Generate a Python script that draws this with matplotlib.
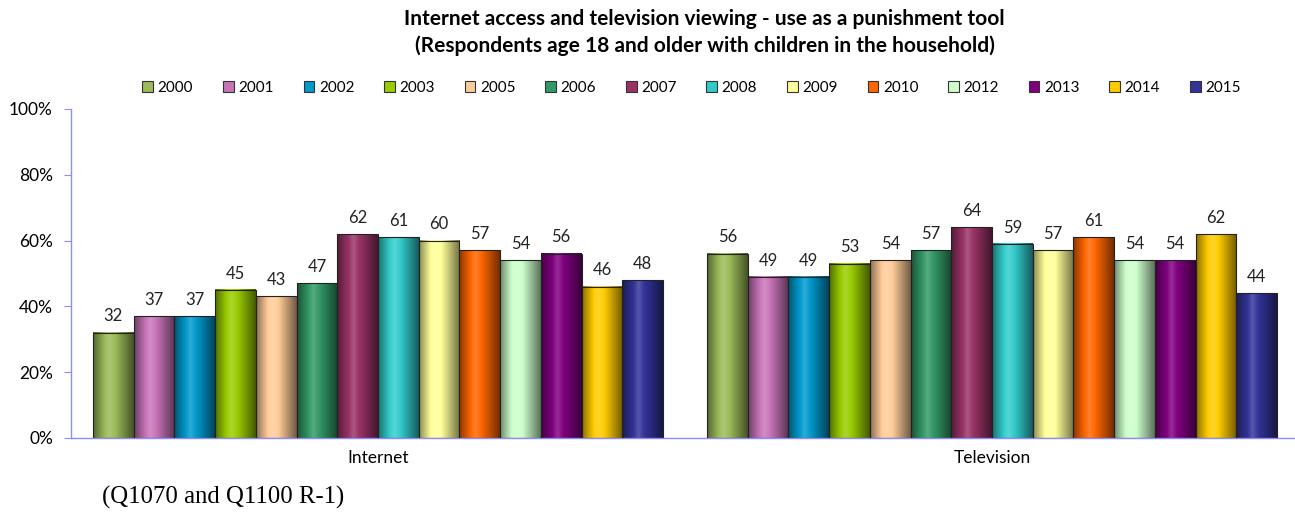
import numpy as np
import matplotlib

matplotlib.use("Agg")
import matplotlib.pyplot as plt
from matplotlib.colors import to_rgb
from matplotlib.patches import Patch
from matplotlib.ticker import PercentFormatter

plt.rcParams["font.family"] = ["Lato", "DejaVu Sans"]

# ---------------- Data ----------------
categories = ["Internet", "Television"]
years = ["2000", "2001", "2002", "2003", "2005", "2006", "2007",
         "2008", "2009", "2010", "2012", "2013", "2014", "2015"]
internet = [32, 37, 37, 45, 43, 47, 62, 61, 60, 57, 54, 56, 46, 48]
television = [56, 49, 49, 53, 54, 57, 64, 59, 57, 61, 54, 54, 62, 44]
colors = ["#9BBB59", "#C774B8", "#0099CC", "#99CC00", "#FFCC99", "#339966",
          "#993366", "#33CCCC", "#FFFF99", "#FF6600", "#CCFFCC", "#800080",
          "#FFCC00", "#333399"]

title = ("Internet access and television viewing - use as a punishment tool\n"
         "(Respondents age 18 and older with children in the household)")
footnote = "(Q1070 and Q1100 R-1)"

axis_col = "#8C8CFF"


def shade(color, n=64):
    """Horizontal gradient: dark edges, light centre (Excel-style bar)."""
    base = np.array(to_rgb(color))
    t = np.linspace(0, 1, n)
    # brightness profile peaking a bit left of centre
    prof = np.interp(t, [0.0, 0.4, 1.0], [-0.45, 0.18, -0.55])
    rows = []
    for p in prof:
        if p >= 0:
            rows.append(base + (1 - base) * p)
        else:
            rows.append(base * (1 + p))
    return np.clip(np.array(rows), 0, 1)[None, :, :]


fig = plt.figure(figsize=(12.95, 5.14), dpi=100)
ax = fig.add_axes([0.0548, 0.148, 0.945, 0.64])

n = len(years)
width = 0.0663
x = np.arange(len(categories))
series = np.array([internet, television]).T / 100.0

for i, (yr, col) in enumerate(zip(years, colors)):
    xpos = x + (i - (n - 1) / 2) * width
    bars = ax.bar(xpos, series[i], width, color=col, zorder=1, label=yr)
    for b, v in zip(bars, series[i]):
        x0 = b.get_x()
        ax.imshow(shade(col), extent=[x0, x0 + width, 0, v],
                  aspect="auto", zorder=2, interpolation="bilinear")
        ax.text(x0 + width / 2, v + 0.025, f"{v * 100:.0f}",
                ha="center", va="bottom", fontsize=12, color="#222222")
    ax.bar(xpos, series[i], width, facecolor="none",
           edgecolor="#222222", linewidth=0.8, zorder=3)

ax.set_xlim(-0.5, 1.493)
ax.set_ylim(0, 1)
ax.set_aspect("auto")
ax.yaxis.set_major_formatter(PercentFormatter(1.0, decimals=0))
ax.set_yticks(np.arange(0, 1.01, 0.2))
ax.set_xticks(x)
ax.set_xticklabels(categories, fontsize=12.5)
ax.tick_params(axis="x", length=0, pad=9)
ax.tick_params(axis="y", direction="out", length=5, color=axis_col,
               labelsize=12.5, pad=8)
for side in ["top", "right"]:
    ax.spines[side].set_visible(False)
for side in ["left", "bottom"]:
    ax.spines[side].set_color(axis_col)
    ax.spines[side].set_linewidth(1.0)

handles = [Patch(facecolor=c, edgecolor="#333333", linewidth=0.8, label=y)
           for y, c in zip(years, colors)]
fig.legend(handles=handles, loc="center", ncol=n, bbox_to_anchor=(0.534, 0.829),
           frameon=False, fontsize=11, handlelength=0.7, handleheight=0.7,
           handletextpad=0.3, columnspacing=1.95)

fig.text(0.544, 0.937, title, ha="center", va="center", fontsize=15,
         fontweight="bold", linespacing=1.35)
fig.text(0.079, 0.033, footnote, ha="left", va="center", fontsize=17.8,
         family=["Liberation Serif", "DejaVu Serif"])

fig.savefig("out.png", dpi=100)
